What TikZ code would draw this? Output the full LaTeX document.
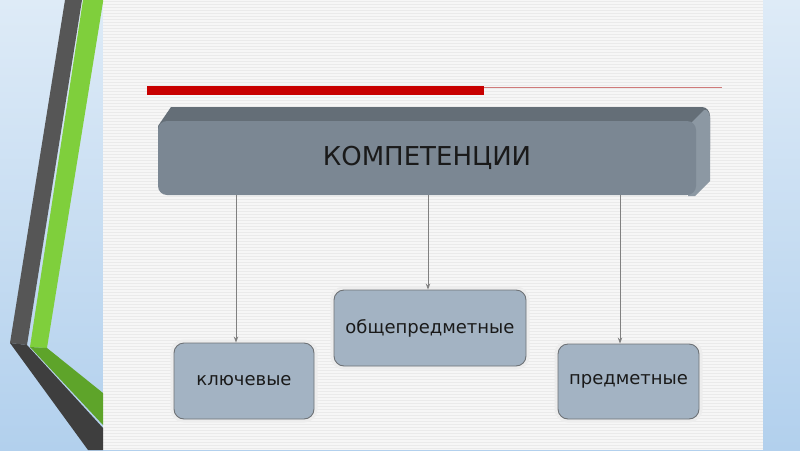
\documentclass[tikz,border=0pt]{standalone}
\usepackage{fontspec}
\setmainfont{DejaVu Sans}
\usetikzlibrary{arrows.meta}
\definecolor{bgtop}{HTML}{DEEBF7}
\definecolor{bgbot}{HTML}{B2D0ED}
\definecolor{panel}{HTML}{F6F6F6}
\definecolor{stripe}{HTML}{EAEAEA}
\definecolor{greyband}{HTML}{565656}
\definecolor{greydark}{HTML}{3E3E3E}
\definecolor{greenband}{HTML}{7FCF3C}
\definecolor{greendark}{HTML}{5EA42A}
\definecolor{redbar}{HTML}{C80000}
\definecolor{thinred}{HTML}{CF7A7A}
\definecolor{topface}{HTML}{646E77}
\definecolor{sideface}{HTML}{8C98A3}
\definecolor{frontface}{HTML}{7B8793}
\definecolor{lowbox}{HTML}{A3B3C3}
\definecolor{lowedge}{HTML}{6E7276}
\definecolor{arrowgrey}{HTML}{808080}
\definecolor{txt}{HTML}{1A1A1A}
\tikzset{
  topfront/.style={fill=frontface, rounded corners=9pt, text=txt,
    font=\fontsize{26}{30}\selectfont, inner sep=0pt},
  lowbox/.style={fill=lowbox, draw=lowedge, line width=0.9pt, rounded corners=10pt,
    text=txt, font=\fontsize{18}{22}\selectfont, inner sep=0pt,
    preaction={draw=black!7, line width=7pt}},
  conn/.style={draw=arrowgrey, line width=0.9pt, -{Stealth[length=6pt,width=4.5pt]}}
}
\begin{document}
\begin{tikzpicture}[x=1pt,y=-1pt]
\useasboundingbox (0,0) rectangle (800,450);
% background
\shade[top color=bgtop,bottom color=bgbot] (0,0) rectangle (800,450);
% panel with faint stripes
\fill[panel] (103,0) rectangle (763,450);
\foreach \yy in {1,4,...,449} \draw[stripe, line width=0.8pt] (103,\yy) -- (763,\yy);
% left decoration
\fill[greyband] (65,0) -- (82,0) -- (27,345) -- (10,343) -- cycle;
\fill[greydark] (10,343) -- (27,345) -- (103,428) -- (103,450) -- (88,450) -- cycle;
\fill[greenband] (83,0) -- (103,0) -- (103,2) -- (47,348) -- (30,347) -- cycle;
\fill[greendark] (30,347) -- (47,348) -- (103,393) -- (103,425) -- cycle;
% red rule
\fill[redbar] (147,86) rectangle (484,95);
\draw[thinred, line width=1.1pt] (484,87.5) -- (722,87.5);
% top box (bevelled)
\fill[topface] (158,145) -- (158,126) -- (171,107) -- (702,107) to[out=0,in=90] (710,116)
  -- (710,150) -- (660,150) -- (660,145) -- cycle;
\fill[sideface] (690,124) -- (704,110) to[out=20,in=90] (710,118)
  -- (710,181) -- (695,196) -- (688,196) -- cycle;
\node[topfront, minimum width=538pt, minimum height=74pt] (komp) at (427,158) {КОМПЕТЕНЦИИ};
% lower boxes
\node[lowbox, minimum width=140pt, minimum height=76pt] (key) at (244,381) {ключевые};
\node[lowbox, minimum width=192pt, minimum height=76pt] (gen) at (430,328) {общепредметные};
\node[lowbox, minimum width=141pt, minimum height=75pt] (subj) at (628.5,381.5) {предметные};
% connectors
\draw[conn] ([xshift=-8pt]key.north |- komp.south) -- ([xshift=-8pt]key.north);
\draw[conn] ([xshift=-2pt]gen.north |- komp.south) -- ([xshift=-2pt]gen.north);
\draw[conn] ([xshift=-8.5pt]subj.north |- komp.south) -- ([xshift=-8.5pt]subj.north);
\end{tikzpicture}
\end{document}
